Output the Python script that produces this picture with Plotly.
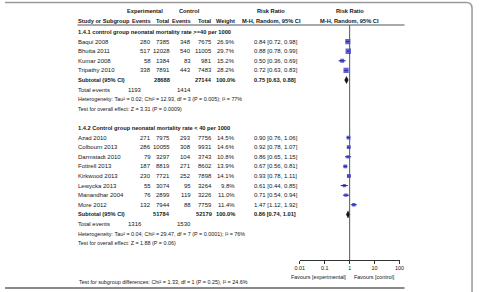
import plotly.graph_objects as go

W, H = 479, 292

# ---------------- data ----------------
g1_title = "1.4.1 control group neonatal mortality rate >=40 per 1000"
g1_studies = ["Baqui 2008", "Bhutta 2011", "Kumar 2008", "Tripathy 2010"]
g1_exp_events = [280, 517, 58, 338]
g1_exp_total = [7385, 12028, 1384, 7891]
g1_ctl_events = [348, 540, 83, 443]
g1_ctl_total = [7675, 11005, 981, 7483]
g1_weight = [26.9, 29.7, 15.2, 28.2]
g1_rr = [0.84, 0.88, 0.50, 0.72]
g1_lo = [0.72, 0.78, 0.36, 0.63]
g1_hi = [0.98, 0.99, 0.69, 0.83]
g1_sub = dict(exp_total=28688, ctl_total=27144, rr=0.75, lo=0.63, hi=0.88,
              exp_events=1193, ctl_events=1414)
g1_het = "Heterogeneity: Tau² = 0.02; Chi² = 12.93, df = 3 (P = 0.005); I² = 77%"
g1_test = "Test for overall effect: Z = 3.31 (P = 0.0009)"

g2_title = "1.4.2 Control group neonatal mortality rate < 40 per 1000"
g2_studies = ["Azad 2010", "Colbourn 2013", "Darmstadt 2010", "Fottrell 2013",
              "Kirkwood 2013", "Lewycka 2013", "Manandhar 2004", "More 2012"]
g2_exp_events = [271, 286, 79, 187, 230, 55, 76, 132]
g2_exp_total = [7975, 10055, 3297, 8819, 7721, 3074, 2899, 7944]
g2_ctl_events = [293, 308, 104, 271, 252, 95, 119, 88]
g2_ctl_total = [7756, 9931, 3743, 8602, 7898, 3264, 3226, 7759]
g2_weight = [14.5, 14.6, 10.8, 13.9, 14.1, 9.8, 11.0, 11.4]
g2_rr = [0.90, 0.92, 0.86, 0.67, 0.93, 0.61, 0.71, 1.47]
g2_lo = [0.76, 0.78, 0.65, 0.56, 0.78, 0.44, 0.54, 1.12]
g2_hi = [1.06, 1.07, 1.15, 0.81, 1.11, 0.85, 0.94, 1.92]
g2_sub = dict(exp_total=51784, ctl_total=52179, rr=0.86, lo=0.74, hi=1.01,
              exp_events=1316, ctl_events=1530)
g2_het = "Heterogeneity: Tau² = 0.04; Chi² = 29.47, df = 7 (P = 0.0001); I² = 76%"
g2_test = "Test for overall effect: Z = 1.88 (P = 0.06)"

subgroup_test = "Test for subgroup differences: Chi² = 1.33, df = 1 (P = 0.25), I² = 24.6%"

tick_vals = [0.01, 0.1, 1, 10, 100]
tick_text = ["0.01", "0.1", "1", "10", "100"]
fav_left = "Favours [experimental]"
fav_right = "Favours [control]"

# ---------------- layout constants (pixels) ----------------
FONT = "Liberation Sans, Arial, sans-serif"
FS = 6
FS_H = 5.7
FS_S = 5.4
TXT = "#161616"
X_NAME = 74
X_EE, X_ET, X_CE, X_CT, X_W = 150, 170, 191, 212, 236
X_TE_E = 141
X_CI = 253
AX_L, AX_R = 301, 403
ROW = 9.6

y_h1, y_h2, y_rule = 11, 21, 25
y_g1 = 32
g1_rows = [y_g1 + ROW * (i + 1) for i in range(len(g1_studies))]
y_g1_sub = g1_rows[-1] + ROW
y_g1_te = y_g1_sub + ROW
y_g1_het = y_g1_te + ROW
y_g1_test = y_g1_het + ROW
y_g2 = 128
g2_rows = [y_g2 + ROW * (i + 1) for i in range(len(g2_studies))]
y_g2_sub = g2_rows[-1] + ROW
y_g2_te = y_g2_sub + ROW
y_g2_het = y_g2_te + ROW
y_g2_test = y_g2_het + ROW
y_axis = 260
y_fav = 277
y_sgtest = 282
y_bottom = 288

fig = go.Figure()
ann = []


def t(x, y, s, anchor="left", bold=False, size=FS, color=TXT):
    ann.append(dict(x=x / W, y=y, xref="paper", yref="y", text=f"<b>{s}</b>" if bold else s,
                    showarrow=False, xanchor=anchor, yanchor="middle",
                    font=dict(family=FONT, size=size, color=color), borderpad=0))


# headers
t(143, y_h1, "Experimental", "center", True, FS_H)
t(188, y_h1, "Control", "center", True, FS_H)
t(272, y_h1, "Risk Ratio", "center", True, FS_H)
t(352, y_h1, "Risk Ratio", "center", True, FS_H)
t(X_NAME, y_h2, "Study or Subgroup", "left", True, FS_H)
t(X_EE, y_h2, "Events", "right", True, FS_H)
t(X_ET, y_h2, "Total", "right", True, FS_H)
t(X_CE, y_h2, "Events", "right", True, FS_H)
t(X_CT, y_h2, "Total", "right", True, FS_H)
t(X_W, y_h2, "Weight", "right", True, FS_H)
t(272, y_h2, "M-H, Random, 95% CI", "center", True, FS_H)
t(352, y_h2, "M-H, Random, 95% CI", "center", True, FS_H)


def ci(r, l, h):
    return f"{r:.2f} [{l:.2f}, {h:.2f}]"


def group(title, yg, rows, studies, ee, et, ce, ct, w, rr, lo, hi, sub, ysub, yte, het, yhet, test, ytest):
    t(X_NAME, yg, title, "left", True, FS_H)
    for i, y in enumerate(rows):
        t(X_NAME, y, studies[i])
        t(X_EE, y, str(ee[i]), "right")
        t(X_ET, y, str(et[i]), "right")
        t(X_CE, y, str(ce[i]), "right")
        t(X_CT, y, str(ct[i]), "right")
        t(X_W, y, f"{w[i]:.1f}%", "right")
        t(X_CI, y, ci(rr[i], lo[i], hi[i]))
    t(X_NAME, ysub, "Subtotal (95% CI)", "left", True, FS_H)
    t(X_ET, ysub, str(sub["exp_total"]), "right", True, FS_H)
    t(X_CT, ysub, str(sub["ctl_total"]), "right", True, FS_H)
    t(X_W, ysub, "100.0%", "right", True, FS_H)
    t(X_CI, ysub, ci(sub["rr"], sub["lo"], sub["hi"]), "left", True, FS_H)
    t(X_NAME, yte, "Total events")
    t(X_TE_E, yte, str(sub["exp_events"]), "right")
    t(X_CE, yte, str(sub["ctl_events"]), "right")
    t(X_NAME, yhet, het, size=FS_S)
    t(X_NAME, ytest, test, size=FS_S)

    # CI lines
    xs, ys = [], []
    for i, y in enumerate(rows):
        xs += [lo[i], hi[i], None]
        ys += [y, y, None]
    fig.add_trace(go.Scatter(x=xs, y=ys, mode="lines", line=dict(color="#1a1a7a", width=1),
                             hoverinfo="skip", showlegend=False))
    fig.add_trace(go.Scatter(x=rr, y=rows, mode="markers",
                             marker=dict(symbol="square", color="#1f1fc4",
                                         size=[wi ** 0.5 * 1.0 for wi in w], line=dict(width=0)),
                             hoverinfo="skip", showlegend=False))
    # diamond
    fig.add_trace(go.Scatter(x=[sub["lo"], sub["rr"], sub["hi"], sub["rr"], sub["lo"]],
                             y=[ysub, ysub - 3.5, ysub, ysub + 3.5, ysub],
                             mode="lines", fill="toself", fillcolor="#111111",
                             line=dict(color="#111111", width=0.5),
                             hoverinfo="skip", showlegend=False))


group(g1_title, y_g1, g1_rows, g1_studies, g1_exp_events, g1_exp_total, g1_ctl_events, g1_ctl_total,
      g1_weight, g1_rr, g1_lo, g1_hi, g1_sub, y_g1_sub, y_g1_te, g1_het, y_g1_het, g1_test, y_g1_test)
group(g2_title, y_g2, g2_rows, g2_studies, g2_exp_events, g2_exp_total, g2_ctl_events, g2_ctl_total,
      g2_weight, g2_rr, g2_lo, g2_hi, g2_sub, y_g2_sub, y_g2_te, g2_het, y_g2_het, g2_test, y_g2_test)

t(X_NAME + 1, y_sgtest, subgroup_test, size=FS_S)
t(349, y_fav, fav_left, "right", size=FS_S)
t(355, y_fav, fav_right, "left", size=FS_S)

shapes = [
    # header rule
    dict(type="line", xref="paper", yref="y", x0=X_NAME / W, x1=408 / W, y0=y_rule, y1=y_rule,
         line=dict(color="#555555", width=1)),
    # line of no effect
    dict(type="line", xref="x", yref="y", x0=1, x1=1, y0=y_rule, y1=y_axis,
         line=dict(color="#555555", width=1)),
    # bottom rule
    dict(type="line", xref="paper", yref="y", x0=0, x1=408 / W, y0=y_bottom, y1=y_bottom,
         line=dict(color="#8a8a8a", width=2)),
    # frame top/right with rounded corner
    dict(type="path", xref="paper", yref="y",
         path=f"M 0 2.5 L {471 / W} 2.5 Q {477 / W} 2.5 {477 / W} 8.5 L {477 / W} 292",
         line=dict(color="#9a9a9a", width=1.5)),
]

fig.update_layout(
    width=W, height=H, margin=dict(l=0, r=0, t=0, b=0),
    paper_bgcolor="white", plot_bgcolor="rgba(0,0,0,0)",
    annotations=ann, shapes=shapes, showlegend=False,
    xaxis=dict(type="log", range=[-2, 2], domain=[AX_L / W, AX_R / W], anchor="free",
               position=1 - y_axis / H, showline=True, linecolor="#333333", linewidth=1,
               ticks="outside", ticklen=3, tickcolor="#333333", tickvals=tick_vals,
               ticktext=tick_text, tickfont=dict(family=FONT, size=FS_S, color=TXT),
               showgrid=False, zeroline=False, fixedrange=True),
    yaxis=dict(range=[H, 0], domain=[0, 1], visible=False, showgrid=False, fixedrange=True),
)

fig.write_html("out.html")
